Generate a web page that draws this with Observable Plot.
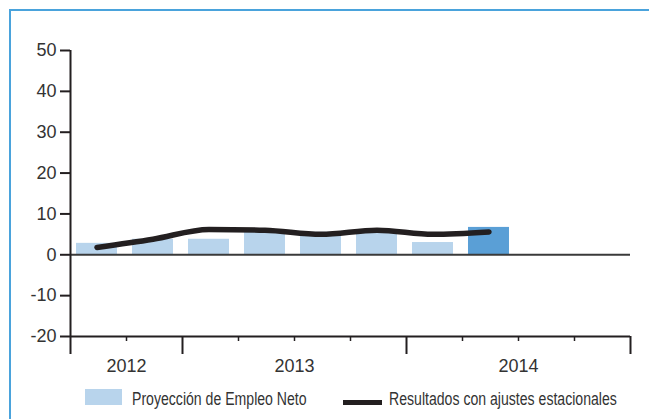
<!DOCTYPE html>
<html>
<head>
<meta charset="utf-8">
<script src="https://cdn.jsdelivr.net/npm/d3@7"></script>
<script src="https://cdn.jsdelivr.net/npm/@observablehq/plot@0.6"></script>
<style>
  html, body { margin: 0; padding: 0; background: #fff; }
  #wrap { position: relative; width: 649px; height: 419px; overflow: hidden; background: #fff; }
  #frame { position: absolute; left: 9px; top: 9px; right: -10px; bottom: -10px;
           border-left: 2.5px solid #4aa3dc; border-top: 2.5px solid #4aa3dc; }
  #chart { position: absolute; left: 0; top: 0; }
  .leg { position: absolute; font-family: "Liberation Sans", Arial, sans-serif;
         font-size: 17.5px; line-height: 17.5px; color: #333; white-space: nowrap;
         transform: scaleX(0.805); transform-origin: 0 50%; }
  .sw { position: absolute; }
</style>
</head>
<body>
<div id="wrap">
  <div id="frame"></div>
  <div id="chart"></div>
</div>
<script>
// ---- data ----
const quarters = ["2012 T3","2012 T4","2013 T1","2013 T2","2013 T3","2013 T4","2014 T1","2014 T2","2014 T3","2014 T4"];
const forecast = [2.8, 3.8, 3.8, 5.5, 5.5, 6, 3, 6.7];          // Proyección de Empleo Neto
const adjusted = [1.8, 3.8, 6.2, 6.0, 5.0, 6.0, 5.0, 5.6];      // Resultados con ajustes estacionales
const currentQuarter = "2014 T2";
const yTicks = [50, 40, 30, 20, 10, 0, -10, -20];
const legendLabels = ["Proyección de Empleo Neto", "Resultados con ajustes estacionales"];

const light = "#b8d4ec", dark = "#5a9fd6", ink = "#231f20", txt = "#333";

// build rows
const rows = forecast.map((v, i) => ({i, q: quarters[i], forecast: v, result: adjusted[i]}));
const yearOf = q => q.slice(0, 4);
const years = d3.groups(quarters.map((q, i) => ({q, i})), d => yearOf(d.q))
  .map(([year, arr]) => ({year, start: d3.min(arr, d => d.i), end: d3.max(arr, d => d.i) + 1}));
const majors = [...new Set(years.flatMap(y => [y.start, y.end]))];
const minors = d3.range(quarters.length + 1).filter(k => !majors.includes(k));

const chart = Plot.plot({
  width: 649,
  height: 380,
  marginLeft: 70,
  marginRight: 19,
  marginTop: 50,
  marginBottom: 44,
  style: {fontFamily: "Liberation Sans, Arial, sans-serif", fontSize: "18px", color: txt, background: "transparent"},
  x: {domain: [0, quarters.length], axis: null},
  y: {domain: [-20, 50], axis: null},
  marks: [
    Plot.rectY(rows, {
      x1: d => d.i + 0.107, x2: d => d.i + 0.839, y: "forecast",
      fill: d => d.q === currentQuarter ? dark : light
    }),
    Plot.ruleY([0], {stroke: "#3a3a3a", strokeWidth: 2}),
    Plot.line(rows, {
      x: d => d.i + 0.473, y: "result", curve: "monotone-x",
      stroke: ink, strokeWidth: 5.5, strokeLinecap: "round", strokeLinejoin: "round"
    }),
    // y axis
    Plot.axisY({ticks: yTicks, tickSize: 10, tickPadding: 4, tickFormat: d => String(d),
      stroke: ink, strokeWidth: 2, fill: txt, fontSize: 18}),
    Plot.ruleX([0], {stroke: ink, strokeWidth: 2}),
    Plot.ruleY([-20], {stroke: ink, strokeWidth: 2}),
    // x axis: major (year) ticks, minor (quarter) ticks, year labels
    Plot.axisX({ticks: majors, tickSize: 18, tickFormat: () => "", stroke: ink, strokeWidth: 2}),
    Plot.axisX({ticks: minors, tickSize: 5, tickFormat: () => "", stroke: ink, strokeWidth: 1.5}),
    Plot.axisX({ticks: years.map(y => (y.start + y.end) / 2), tickSize: 0, tickPadding: 23,
      tickFormat: v => years.find(y => (y.start + y.end) / 2 === v).year, fill: txt, fontSize: 18})
  ]
});
document.getElementById("chart").appendChild(chart);

// legend (below the plot area)
const wrap = document.getElementById("wrap");
function add(html) { const t = document.createElement("div"); t.innerHTML = html; wrap.appendChild(t.firstChild); }
add(`<div class="sw" style="left:85px;top:389px;width:37px;height:16px;background:${light}"></div>`);
add(`<div class="leg" style="left:131.5px;top:390.5px">${legendLabels[0]}</div>`);
add(`<div class="sw" style="left:343px;top:400px;width:39px;height:5px;background:${ink}"></div>`);
add(`<div class="leg" style="left:389px;top:390.5px">${legendLabels[1]}</div>`);
</script>
</body>
</html>
